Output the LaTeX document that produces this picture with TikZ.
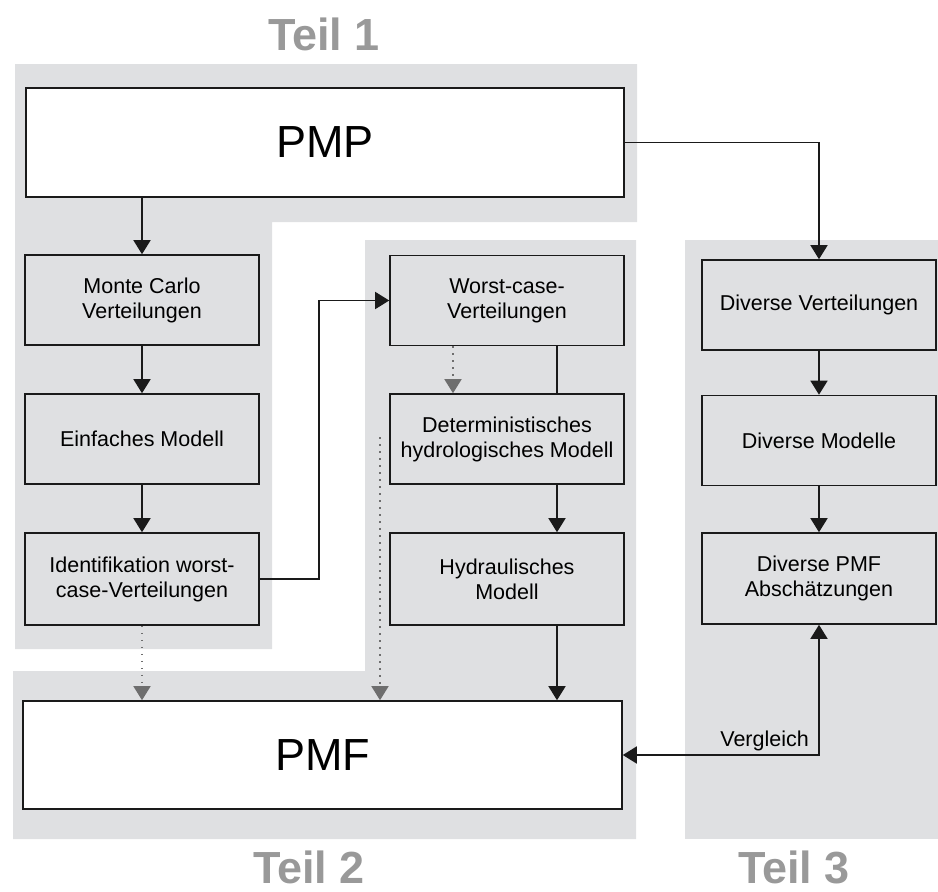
\documentclass[tikz,border=0pt]{standalone}
\usepackage{fontspec}
\setmainfont{Liberation Sans}
\usetikzlibrary{arrows.meta,calc}
\definecolor{regiongray}{HTML}{DFE0E2}
\definecolor{linedark}{HTML}{1A1A1A}
\definecolor{dotgray}{HTML}{6E6E6E}
\definecolor{teilgray}{HTML}{999999}
\begin{document}
\begin{tikzpicture}[x=1pt,y=-1pt,
  box/.style={draw=linedark,line width=1.6pt,fill=regiongray,minimum width=234pt,minimum height=90pt,align=center,inner sep=2pt,font=\fontsize{21.5}{25}\selectfont},
  bigbox/.style={draw=linedark,line width=1.6pt,fill=white,minimum width=598pt,minimum height=108pt,font=\fontsize{45}{50}\selectfont},
  conn/.style={draw=linedark,line width=1.6pt,-{Triangle[length=14pt,width=17pt]}},
  dotconn/.style={draw=dotgray,line width=1.5pt,dash pattern=on 1.5pt off 5.5pt,-{Triangle[length=14pt,width=17pt]}},
  teil/.style={text=teilgray,anchor=base,inner sep=0pt,font=\fontsize{45}{50}\selectfont\bfseries}]
\useasboundingbox (0,0) rectangle (938,892);
% regions
\fill[regiongray] (15,64) -- (637,64) -- (637,222) -- (272,222) -- (272,649) -- (15,649) -- cycle;
\fill[regiongray] (365,240) -- (636,240) -- (636,839) -- (13,839) -- (13,671) -- (365,671) -- cycle;
\fill[regiongray] (685,240) rectangle (938,839);
% titles
\node[teil] (t1) at (324,50) {Teil 1};
\node[teil] (t2) at (309,883) {Teil 2};
\node[teil] (t3) at (794,883) {Teil 3};
% boxes
\node[bigbox,minimum height=109pt] (pmp) at (325,142.5) {PMP};
\node[bigbox,minimum width=599pt] (pmf) at (322.5,755) {PMF};
\node[box] (mc) at (142,300) {Monte Carlo\\Verteilungen};
\node[box] (ein) at (142,439) {Einfaches Modell};
\node[box,minimum height=92pt] (idf) at (142,579) {Identifikation worst-\\case-Verteilungen};
\node[box] (wc) at (507,300.5) {Worst-case-\\Verteilungen};
\node[box] (det) at (507,439) {Deterministisches\\hydrologisches Modell};
\node[box,minimum height=92pt] (hyd) at (507,579) {Hydraulisches\\Modell};
\node[box] (dv) at (819,305) {Diverse Verteilungen};
\node[box] (dm) at (819,440.5) {Diverse Modelle};
\node[box,minimum height=91pt] (dp) at (819,578.5) {Diverse PMF\\Abschätzungen};
% connectors
\draw[conn] (mc.north |- pmp.south) -- (mc.north);
\draw[conn] (mc) -- (ein);
\draw[conn] (ein) -- (idf);
\coordinate (bend) at (319,579);
\draw[conn] (idf.east) -- (bend) |- (wc.west);
\draw[dotconn] (idf.south) -- (idf.south |- pmf.north);
\coordinate (dstart) at (380,437);
\draw[dotconn] (dstart) -- (dstart |- pmf.north);
\draw[dotconn] ([xshift=-54pt]wc.south) -- ([xshift=-54pt]det.north);
\draw[draw=linedark,line width=1.6pt] ([xshift=50pt]wc.south) -- ([xshift=50pt]det.north);
\draw[conn] ([xshift=50pt]det.south) -- ([xshift=50pt]hyd.north);
\draw[conn] ([xshift=50pt]hyd.south) -- ([xshift=50pt]hyd.south |- pmf.north);
\draw[conn] (pmp.east) -| (dv.north);
\draw[conn] (dv) -- (dm);
\draw[conn] (dm) -- (dp);
\draw[conn,{Triangle[length=14pt,width=17pt]}-{Triangle[length=14pt,width=17pt]}] (pmf.east) -| (dp.south);
\node[anchor=base east,inner sep=0pt,font=\fontsize{21.5}{25}\selectfont] (vgl) at (809,746) {Vergleich};
\end{tikzpicture}
\end{document}
